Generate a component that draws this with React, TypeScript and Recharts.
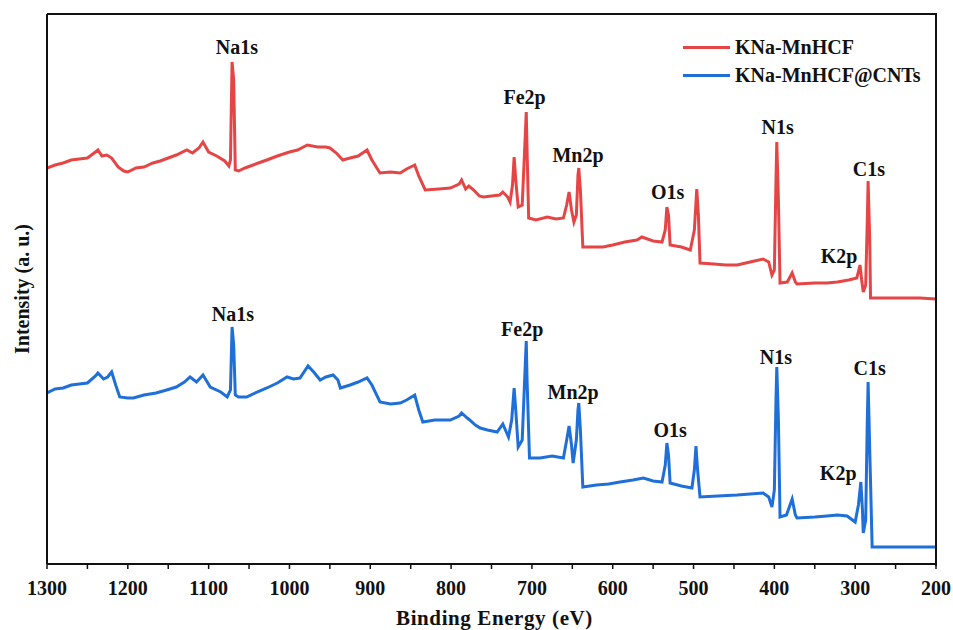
import React from 'react';
import {
  ComposedChart, Line, Scatter, XAxis, YAxis, Legend
} from 'recharts';

const FONT = '"Liberation Serif", "Times New Roman", serif';
const RED = '#e64545';
const BLUE = '#1f6fd8';

// binding energy (eV) : intensity (a.u.)
const KNA_MNHCF: [number, number][] = [
  [1300, 396], [1290, 399], [1280, 401], [1270, 404], [1260, 405], [1250, 406],
  [1240, 412], [1237, 414], [1232, 408], [1226, 409], [1220, 406], [1212, 397],
  [1205, 393], [1200, 392], [1190, 396], [1180, 397], [1169, 401], [1160, 403],
  [1150, 406], [1140, 409], [1127, 414], [1120, 411], [1112, 416], [1107, 422],
  [1100, 412], [1090, 408], [1080, 403], [1075, 398], [1073, 404], [1071, 502],
  [1069, 484], [1067, 394], [1063, 393], [1055, 396], [1045, 399], [1035, 402],
  [1028, 404], [1015, 408], [1000, 412], [990, 414], [978, 419], [965, 417],
  [955, 417], [950, 416], [942, 411], [934, 404], [925, 406], [915, 408],
  [904, 414], [898, 404], [888, 391], [875, 392], [863, 391], [855, 395],
  [845, 399], [840, 388], [832, 374], [815, 375], [801, 376], [790, 380],
  [787, 384], [782, 375], [778, 378], [772, 374], [765, 368], [760, 367],
  [750, 368], [740, 369], [736, 372], [730, 367], [727, 362], [724, 379],
  [722, 407], [720, 384], [717, 357], [712, 359], [709, 414], [707, 452],
  [706, 414], [704, 346], [695, 344], [681, 347], [670, 345], [661, 346],
  [657, 359], [654, 372], [651, 354], [648, 342], [645, 349], [643, 389],
  [642, 396], [640, 374], [637, 317], [625, 317], [612, 317], [600, 319],
  [585, 322], [570, 324], [564, 327], [550, 323], [539, 322], [535, 334],
  [533, 357], [531, 349], [529, 319], [515, 317], [504, 314], [499, 334],
  [496, 375], [494, 349], [492, 301], [475, 300], [460, 299], [446, 299],
  [430, 302], [414, 305], [407, 302], [403, 289], [400, 294], [398, 384],
  [397, 422], [395, 364], [393, 281], [384, 282], [378, 291], [374, 282],
  [372, 280], [350, 281], [335, 281], [322, 282], [308, 284], [298, 286],
  [294, 299], [292, 284], [290, 272], [287, 279], [285, 344], [284, 383],
  [282, 324], [281, 266], [260, 266], [240, 266], [220, 266], [200, 265],
];

const KNA_MNHCF_CNTS: [number, number][] = [
  [1300, 171], [1290, 175], [1280, 176], [1270, 179], [1260, 180], [1250, 181],
  [1240, 188], [1237, 191], [1230, 185], [1225, 187], [1220, 192], [1215, 179],
  [1210, 167], [1200, 166], [1193, 166], [1180, 169], [1165, 171], [1152, 174],
  [1140, 177], [1130, 182], [1123, 187], [1115, 182], [1107, 189], [1098, 177],
  [1085, 172], [1077, 167], [1073, 174], [1071, 237], [1069, 219], [1067, 169],
  [1063, 167], [1053, 167], [1040, 172], [1028, 176], [1015, 181], [1003, 187],
  [995, 185], [987, 186], [977, 198], [970, 192], [962, 184], [955, 187],
  [946, 189], [940, 184], [937, 176], [925, 179], [915, 182], [904, 186],
  [898, 179], [888, 162], [875, 160], [863, 161], [855, 164], [845, 169],
  [840, 154], [835, 142], [820, 144], [801, 144], [790, 148], [787, 151],
  [780, 146], [777, 144], [770, 139], [764, 136], [755, 134], [743, 132],
  [736, 140], [729, 127], [725, 144], [722, 176], [720, 154], [717, 117],
  [712, 124], [709, 184], [707, 223], [706, 184], [703, 106], [690, 106],
  [675, 108], [661, 106], [657, 124], [654, 138], [651, 119], [649, 101],
  [645, 124], [643, 154], [642, 161], [640, 134], [637, 77], [620, 79],
  [605, 80], [591, 82], [575, 84], [562, 86], [550, 83], [539, 82],
  [535, 99], [533, 121], [531, 109], [529, 81], [515, 78], [502, 76],
  [499, 94], [497, 118], [495, 94], [492, 67], [470, 68], [446, 69],
  [430, 70], [414, 71], [407, 67], [403, 57], [400, 74], [398, 164],
  [397, 197], [395, 144], [393, 47], [385, 49], [378, 65], [374, 49],
  [372, 46], [350, 47], [335, 48], [322, 49], [310, 48], [300, 42],
  [296, 59], [293, 82], [291, 54], [290, 31], [287, 44], [285, 144],
  [284, 182], [282, 114], [279, 17], [260, 17], [240, 17], [220, 17], [200, 17],
];

const PEAK_NAMES = ['Na1s', 'Fe2p', 'Mn2p', 'O1s', 'N1s', 'K2p', 'C1s'];
// where each peak name sits, [energy, intensity]
const RED_LABELS: [number, number][] = [
  [1065, 517], [709, 467], [643, 409], [532, 372], [396, 437], [320, 308], [283, 395],
];
const BLUE_LABELS: [number, number][] = [
  [1070, 250], [712, 235], [649, 172], [529, 134], [398, 207], [321, 91], [282, 196],
];

const X_TICKS = [1300, 1250, 1200, 1150, 1100, 1050, 1000, 950, 900, 850, 800, 750,
  700, 650, 600, 550, 500, 450, 400, 350, 300, 250, 200];

const toRows = (pts: [number, number][]) => pts.map(([e, v]) => ({ e, v }));
const labelRows = (pts: [number, number][]) =>
  pts.map(([e, v], i) => ({ e, v, name: PEAK_NAMES[i] }));

const PeakLabel = (props: any) => (
  <text
    x={props.cx}
    y={props.cy}
    textAnchor="middle"
    dominantBaseline="central"
    fontFamily={FONT}
    fontWeight="bold"
    fontSize={20}
    fill="#111"
  >
    {props.payload.name}
  </text>
);

const LegendBox = () => (
  <div style={{ fontFamily: FONT, fontWeight: 'bold', fontSize: 20, color: '#111' }}>
    {[['KNa-MnHCF', RED], ['KNa-MnHCF@CNTs', BLUE]].map(([name, c]) => (
      <div key={name} style={{ display: 'flex', alignItems: 'center', height: 28 }}>
        <div style={{ width: 47, height: 3, background: c, marginRight: 5 }} />
        <span>{name}</span>
      </div>
    ))}
  </div>
);

export default function App() {
  return (
    <div style={{ position: 'absolute', left: 0, top: 0, width: 953, height: 630, background: '#fff' }}>
      <ComposedChart width={953} height={630} margin={{ top: 14, right: 17, bottom: 0, left: 0 }}>
        <XAxis
          dataKey="e"
          type="number"
          domain={[200, 1300]}
          reversed
          allowDataOverflow
          ticks={X_TICKS}
          interval={0}
          height={66}
          tickSize={5}
          tickMargin={12}
          tickFormatter={(t: number) => (t % 100 === 0 ? String(t) : '')}
          tick={{ fontFamily: FONT, fontWeight: 'bold', fontSize: 20, fill: '#111' }}
          axisLine={{ stroke: '#111', strokeWidth: 2 }}
          tickLine={{ stroke: '#111', strokeWidth: 1.5 }}
          label={{
            content: (p: any) => (
              <text x={p.viewBox.x + p.viewBox.width / 2 + 3} y={625} textAnchor="middle"
                fontFamily={FONT} fontWeight="bold" fontSize={21} letterSpacing={0.6} fill="#111">
                Binding Energy (eV)
              </text>
            ),
          }}
        />
        <YAxis
          type="number"
          domain={[0, 550]}
          allowDataOverflow
          width={47}
          tick={false}
          tickLine={false}
          axisLine={{ stroke: '#111', strokeWidth: 2 }}
          label={{
            content: (p: any) => {
              const cy = p.viewBox.y + p.viewBox.height / 2;
              return (
                <text x={22} y={cy} transform={`rotate(-90 22 ${cy})`} textAnchor="middle"
                  dominantBaseline="central" fontFamily={FONT} fontWeight="bold" fontSize={20} fill="#111">
                  Intensity (a. u.)
                </text>
              );
            },
          }}
        />
        <Legend
          layout="vertical"
          align="center"
          verticalAlign="middle"
          content={<LegendBox />}
          wrapperStyle={{ position: 'absolute', left: 683, top: 33, width: 'auto' }}
        />
        <Line
          data={toRows(KNA_MNHCF)}
          dataKey="v"
          name="KNa-MnHCF"
          type="linear"
          stroke={RED}
          strokeWidth={3}
          dot={false}
          isAnimationActive={false}
        />
        <Line
          data={toRows(KNA_MNHCF_CNTS)}
          dataKey="v"
          name="KNa-MnHCF@CNTs"
          type="linear"
          stroke={BLUE}
          strokeWidth={3}
          dot={false}
          isAnimationActive={false}
        />
        <Scatter data={labelRows(RED_LABELS)} dataKey="v" shape={PeakLabel} isAnimationActive={false} legendType="none" />
        <Scatter data={labelRows(BLUE_LABELS)} dataKey="v" shape={PeakLabel} isAnimationActive={false} legendType="none" />
      </ComposedChart>
      {/* top and right edges of the plot frame */}
      <div
        style={{
          position: 'absolute', left: 47, top: 13, width: 888, height: 551,
          borderTop: '2px solid #111', borderRight: '2px solid #111', pointerEvents: 'none',
        }}
      />
    </div>
  );
}
